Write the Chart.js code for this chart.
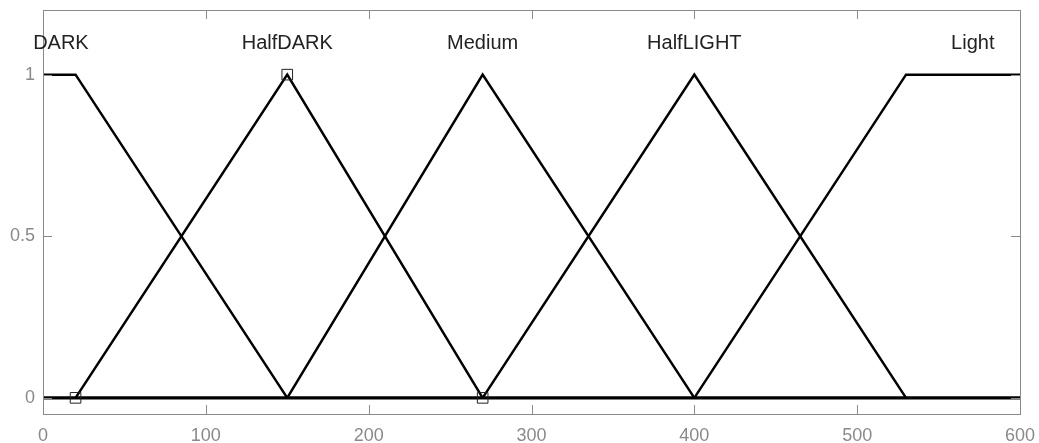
<!DOCTYPE html>
<html>
<head>
<meta charset="utf-8">
<script src="https://cdn.jsdelivr.net/npm/chart.js@4"></script>
<style>
html,body{margin:0;padding:0;background:#fff;}
</style>
</head>
<body>
<canvas id="chart" width="1039" height="443"></canvas>
<script>
// membership functions: breakpoints and degree
const darkX = [0, 20, 150];
const darkY = [1, 1, 0];
const halfDarkX = [20, 150, 270];
const halfDarkY = [0, 1, 0];
const mediumX = [150, 270, 400];
const mediumY = [0, 1, 0];
const halfLightX = [270, 400, 530];
const halfLightY = [0, 1, 0];
const lightX = [400, 530, 600];
const lightY = [0, 1, 1];
const baseX = [0, 600];
const baseY = [0, 0];
// selected points (squares)
const markerX = [20, 150, 270];
const markerY = [0, 1, 0];
const setNames = ['DARK', 'HalfDARK', 'Medium', 'HalfLIGHT', 'Light'];
const nameX = [11, 150, 270, 400, 571];
const xTicks = [0, 100, 200, 300, 400, 500, 600];
const yTicks = [0, 0.5, 1];

const pts = (xs, ys) => xs.map((x, i) => ({x: x, y: ys[i]}));
const sets = [[darkX, darkY], [halfDarkX, halfDarkY], [mediumX, mediumY], [halfLightX, halfLightY], [lightX, lightY]];

const lineDs = (xs, ys, w) => ({
    data: pts(xs, ys),
    showLine: true,
    borderColor: '#000',
    borderWidth: w,
    pointRadius: 0,
    tension: 0
});

const datasets = [{
    data: pts(markerX, markerY),
    showLine: false,
    pointStyle: 'rect',
    pointRadius: 7.5,
    borderColor: '#222',
    borderWidth: 1,
    backgroundColor: 'rgba(0,0,0,0)'
}];
sets.forEach(s => datasets.push(lineDs(s[0], s[1], 2.5)));
datasets.push(lineDs(baseX, baseY, 3.2));

// frame, inward tick marks and set names
const decor = {
    id: 'decor',
    afterDraw(c) {
        const ctx = c.ctx, a = c.chartArea, xs = c.scales.x, ys = c.scales.y;
        ctx.save();
        ctx.strokeStyle = '#8a8a8a';
        ctx.lineWidth = 1;
        ctx.strokeRect(a.left + 0.5, a.top + 0.5, a.right - a.left, a.bottom - a.top);
        ctx.beginPath();
        xTicks.forEach(v => {
            const px = Math.round(xs.getPixelForValue(v)) + 0.5;
            ctx.moveTo(px, a.bottom); ctx.lineTo(px, a.bottom - 9);
            ctx.moveTo(px, a.top); ctx.lineTo(px, a.top + 9);
        });
        yTicks.forEach(v => {
            const py = Math.round(ys.getPixelForValue(v)) + 0.5;
            ctx.moveTo(a.left, py); ctx.lineTo(a.left + 9, py);
            ctx.moveTo(a.right, py); ctx.lineTo(a.right - 9, py);
        });
        ctx.stroke();
        ctx.fillStyle = '#222';
        ctx.font = '20px "Liberation Sans", Arial, sans-serif';
        ctx.textAlign = 'center';
        ctx.textBaseline = 'middle';
        setNames.forEach((n, i) => {
            ctx.fillText(n, xs.getPixelForValue(nameX[i]), ys.getPixelForValue(1.095));
        });
        ctx.restore();
    }
};

const tickFont = {size: 18, family: '"Liberation Sans", Arial'};

new Chart(document.getElementById('chart'), {
    type: 'scatter',
    data: {datasets: datasets},
    options: {
        responsive: false,
        devicePixelRatio: 1,
        animation: false,
        layout: {padding: {top: 10, right: 19, left: 0, bottom: 0}},
        plugins: {legend: {display: false}, tooltip: {enabled: false}},
        scales: {
            x: {
                type: 'linear', min: 0, max: 600,
                afterBuildTicks: s => { s.ticks = xTicks.map(v => ({value: v})); },
                afterFit: s => { s.height = 29; s.paddingLeft = 0; s.paddingRight = 0; },
                grid: {display: false, drawTicks: false},
                border: {display: false},
                ticks: {color: '#8a8a8a', font: tickFont, padding: 11, maxRotation: 0}
            },
            y: {
                type: 'linear', min: -0.05, max: 1.2,
                afterBuildTicks: s => { s.ticks = yTicks.map(v => ({value: v})); },
                afterFit: s => { s.width = 43; s.paddingTop = 0; s.paddingBottom = 0; },
                grid: {display: false, drawTicks: false},
                border: {display: false},
                ticks: {color: '#8a8a8a', font: tickFont, padding: 8, callback: v => String(v)}
            }
        }
    },
    plugins: [decor]
});
</script>
</body>
</html>
